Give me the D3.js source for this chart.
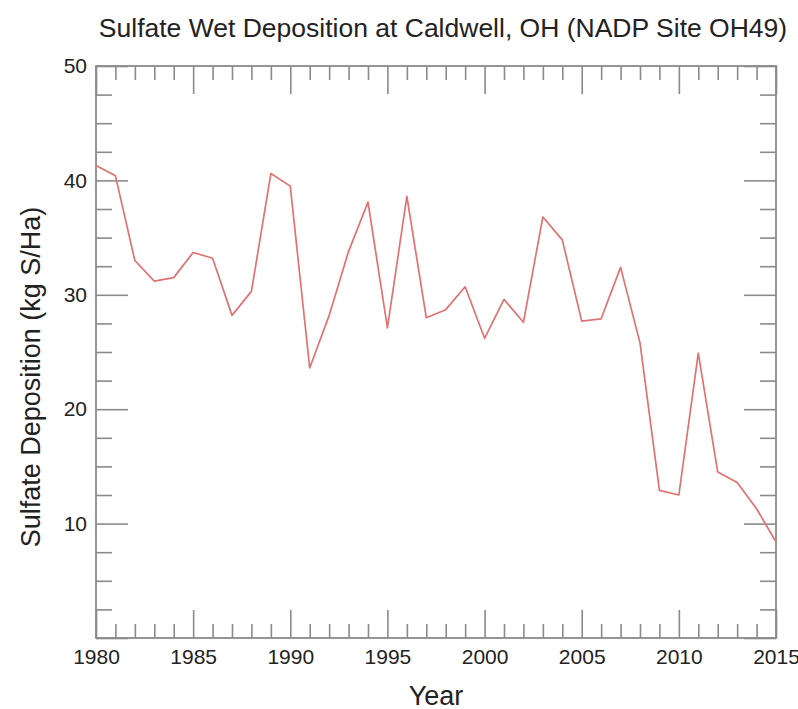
<!DOCTYPE html>
<html>
<head>
    <title>Sulfate Wet Deposition at Caldwell, OH</title>
    <script src="https://d3js.org/d3.v7.min.js"></script>
    <style>
        body { margin: 0; background: #fff; }
        text { font-family: "Liberation Sans", Arial, sans-serif; fill: #222; }
        .axis path { display: none; }
        .axis line { stroke: #8a8a8a; stroke-width: 1.6px; }
        .axis text { font-size: 21px; fill: #222; }
        .frame { fill: none; stroke: #8a8a8a; stroke-width: 1.8px; }
    </style>
</head>
<body>
<div id="chart"></div>
<script>
    // data
    const years = d3.range(1980, 2016);
    const sulfate = [
        41.3, 40.4, 33.0, 31.2, 31.5, 33.7, 33.2, 28.2, 30.3, 40.6,
        39.5, 23.6, 28.2, 33.8, 38.1, 27.1, 38.6, 28.0, 28.7, 30.7,
        26.2, 29.6, 27.6, 36.8, 34.8, 27.7, 27.9, 32.4, 25.8, 12.9,
        12.5, 24.9, 14.5, 13.6, 11.3, 8.4
    ];
    const xMajor = [1980, 1985, 1990, 1995, 2000, 2005, 2010, 2015];
    const yMajor = [0, 10, 20, 30, 40, 50];
    const yLabels = [10, 20, 30, 40, 50];

    const width = 798, height = 709;
    const plotLeft = 96, plotRight = 776, plotTop = 66, plotBottom = 638;

    const svg = d3.select("#chart").append("svg")
        .attr("width", width)
        .attr("height", height);

    const x = d3.scaleLinear().domain([1980, 2015]).range([plotLeft, plotRight]);
    const y = d3.scaleLinear().domain([0, 50]).range([plotBottom, plotTop]);

    const xMinor = years.filter(d => xMajor.indexOf(d) < 0);
    const yMinor = d3.range(0, 50, 2.5).filter(d => d % 10 !== 0);

    const fmtY = d => yLabels.indexOf(d) >= 0 ? d : "";

    // bottom axis
    svg.append("g").attr("class", "axis")
        .attr("transform", `translate(0,${plotBottom})`)
        .call(d3.axisBottom(x).tickValues(xMajor).tickSize(-28).tickPadding(11).tickFormat(d3.format("d")));
    svg.append("g").attr("class", "axis")
        .attr("transform", `translate(0,${plotBottom})`)
        .call(d3.axisBottom(x).tickValues(xMinor).tickSize(-14).tickFormat(""));

    // top axis (no labels)
    svg.append("g").attr("class", "axis")
        .attr("transform", `translate(0,${plotTop})`)
        .call(d3.axisTop(x).tickValues(xMajor).tickSize(-28).tickFormat(""));
    svg.append("g").attr("class", "axis")
        .attr("transform", `translate(0,${plotTop})`)
        .call(d3.axisTop(x).tickValues(xMinor).tickSize(-14).tickFormat(""));

    // left axis
    svg.append("g").attr("class", "axis")
        .attr("transform", `translate(${plotLeft},0)`)
        .call(d3.axisLeft(y).tickValues(yMajor).tickSize(-32).tickPadding(9).tickFormat(fmtY));
    svg.append("g").attr("class", "axis")
        .attr("transform", `translate(${plotLeft},0)`)
        .call(d3.axisLeft(y).tickValues(yMinor).tickSize(-16).tickFormat(""));

    // right axis (no labels)
    svg.append("g").attr("class", "axis")
        .attr("transform", `translate(${plotRight},0)`)
        .call(d3.axisRight(y).tickValues(yMajor).tickSize(-32).tickFormat(""));
    svg.append("g").attr("class", "axis")
        .attr("transform", `translate(${plotRight},0)`)
        .call(d3.axisRight(y).tickValues(yMinor).tickSize(-16).tickFormat(""));

    // plot frame
    svg.append("rect")
        .attr("class", "frame")
        .attr("x", plotLeft)
        .attr("y", plotTop)
        .attr("width", plotRight - plotLeft)
        .attr("height", plotBottom - plotTop);

    // the series
    const line = d3.line()
        .x((d, i) => x(years[i]))
        .y(d => y(d));

    svg.append("path")
        .datum(sulfate)
        .attr("d", line)
        .attr("fill", "none")
        .attr("stroke", "#e07272")
        .attr("stroke-width", 1.7)
        .attr("stroke-linejoin", "round");

    // titles
    svg.append("text")
        .attr("x", 443)
        .attr("y", 37)
        .attr("text-anchor", "middle")
        .style("font-size", "26.5px")
        .text("Sulfate Wet Deposition at Caldwell, OH (NADP Site OH49)");

    svg.append("text")
        .attr("x", 436)
        .attr("y", 705)
        .attr("text-anchor", "middle")
        .style("font-size", "27px")
        .text("Year");

    svg.append("text")
        .attr("transform", "translate(40,377) rotate(-90)")
        .attr("text-anchor", "middle")
        .style("font-size", "27px")
        .text("Sulfate Deposition (kg S/Ha)");
</script>
</body>
</html>
